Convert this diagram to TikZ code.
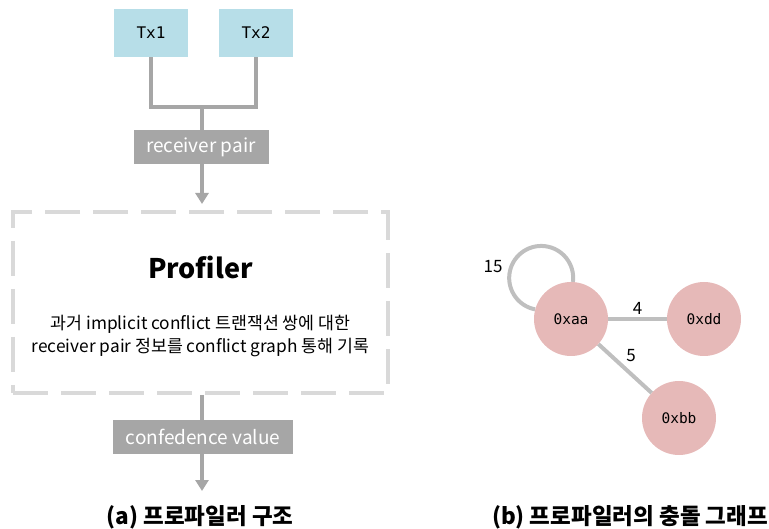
\documentclass[tikz,border=0pt]{standalone}
\usepackage{fontspec}
\setmainfont{Noto Sans CJK KR}
\setmonofont{DejaVu Sans Mono}
\usetikzlibrary{arrows.meta}

\definecolor{txblue}{HTML}{B7DEE8}
\definecolor{boxgray}{HTML}{A6A6A6}
\definecolor{dashgray}{HTML}{D9D9D9}
\definecolor{edgegray}{HTML}{BFBFBF}
\definecolor{vpink}{HTML}{E6B9B8}

\tikzset{
  txbox/.style={fill=txblue,minimum width=74pt,minimum height=48pt,inner sep=0pt,font=\ttfamily\fontsize{16}{18}\selectfont},
  graybox/.style={fill=boxgray,text=white,minimum height=34pt,inner sep=0pt,font=\fontsize{19}{22}\selectfont},
  link/.style={boxgray,line width=4.5pt},
  flow/.style={link,-{Triangle[width=13pt,length=11pt]}},
  vnode/.style={circle,fill=vpink,minimum size=74pt,inner sep=0pt,font=\ttfamily\fontsize{14.5}{16}\selectfont},
  edge/.style={edgegray,line width=4pt},
  wlabel/.style={text=black,font=\fontsize{17}{19}\selectfont,inner sep=2pt},
  caption/.style={font=\bfseries\fontsize{22.5}{26}\selectfont}
}

\begin{document}
\begin{tikzpicture}[x=1pt,y=-1pt]
  \useasboundingbox (0,0) rectangle (769,529);
  % (a) profiler structure
  \node[txbox] (tx1) at (151,33) {Tx1};
  \node[txbox] (tx2) at (256,33) {Tx2};
  \coordinate (join) at (202,107);
  \node[graybox,minimum width=135pt] (rp) at (201,147) {receiver pair};
  \node[draw=dashgray,line width=4pt,dash pattern=on 35pt off 13pt,
        minimum width=375pt,minimum height=181pt] (prof) at (200.5,302.5) {};
  \node[font=\bfseries\fontsize{27}{30}\selectfont] (ptitle) at (200.5,267) {Profiler};
  \node[align=center,font=\fontsize{17.3}{23}\selectfont] (pdesc) at (200.5,336)
    {과거 implicit conflict 트랜잭션 쌍에 대한\\receiver pair 정보를 conflict graph 통해 기록};
  \node[graybox,minimum width=180pt] (cv) at (203,437) {confedence value};
  \coordinate (out) at (202,491);
  \draw[link] (tx1) |- (join) -| (tx2);
  \draw[link] (join) -- (join |- rp.north);
  \draw[flow,shorten >=6pt] (rp.south -| join) -- (join |- prof.north);
  \draw[link] (join |- prof.south) -- (join |- cv.north);
  \draw[flow] (join |- cv.south) -- (out);
  \node[caption] (capa) at (200,517) {(a) 프로파일러 구조};
  % (b) conflict graph
  \node[vnode] (aa) at (571,319) {0xaa};
  \node[vnode] (dd) at (704,319) {0xdd};
  \node[vnode] (bb) at (679,418) {0xbb};
  \draw[edge] (aa.87) arc[start angle=7,end angle=-259,radius=32];
  \draw[edge] (aa) -- node[wlabel,above] (w4) {4} (dd);
  \draw[edge] (aa) -- node[wlabel,above right,pos=0.45] (w5) {5} (bb);
  \node[wlabel] (w15) at (493,267) {15};
  \node[caption] (capb) at (630,517) {(b) 프로파일러의 충돌 그래프};
\end{tikzpicture}
\end{document}
